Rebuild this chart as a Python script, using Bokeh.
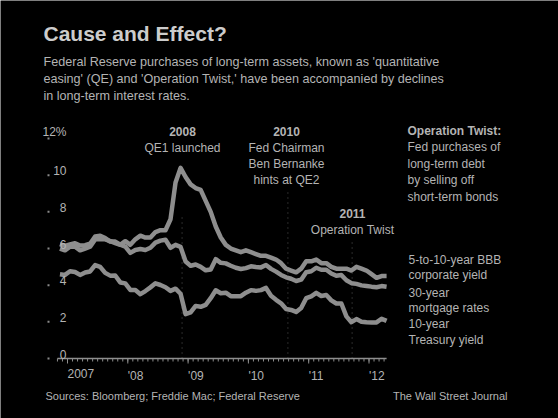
import math
from bokeh.plotting import figure
from bokeh.models import Range1d, Label
from bokeh.core.properties import value
from bokeh.embed import file_html
from bokeh.resources import INLINE

# ---------------- data ----------------
start_year, start_month = 2006, 11
n_months = 66  # Nov 2006 .. Apr 2012

treasury = [4.60, 4.56,
            4.76, 4.72, 4.56, 4.69, 4.75, 5.10, 5.00, 4.67, 4.52, 4.53, 4.15, 4.10,
            3.74, 3.74, 3.51, 3.68, 3.88, 4.10, 4.01, 3.89, 3.69, 3.81, 3.53, 2.42,
            2.52, 2.87, 2.82, 2.93, 3.29, 3.72, 3.56, 3.59, 3.40, 3.39, 3.40, 3.59,
            3.73, 3.69, 3.73, 3.85, 3.42, 3.20, 3.01, 2.70, 2.65, 2.54, 2.76, 3.29,
            3.39, 3.58, 3.41, 3.46, 3.17, 3.00, 3.00, 2.30, 1.98, 2.15, 2.01, 1.98,
            1.97, 1.97, 2.17, 2.05]
mortgage = [6.24, 6.14,
            6.22, 6.29, 6.16, 6.18, 6.26, 6.66, 6.70, 6.57, 6.38, 6.38, 6.21, 6.10,
            5.76, 5.92, 5.97, 5.92, 6.04, 6.32, 6.43, 6.48, 6.04, 6.20, 6.09, 5.29,
            5.06, 5.13, 5.00, 4.81, 4.86, 5.42, 5.22, 5.19, 5.06, 4.95, 4.88, 4.93,
            5.03, 4.99, 4.97, 5.10, 4.89, 4.74, 4.56, 4.43, 4.35, 4.23, 4.30, 4.71,
            4.76, 4.95, 4.84, 4.84, 4.64, 4.51, 4.55, 4.27, 4.11, 4.07, 3.99, 3.96,
            3.92, 3.89, 3.95, 3.91]
corporate = [6.0, 5.9,
             6.1, 6.1, 5.9, 6.0, 6.1, 6.5, 6.5, 6.5, 6.4, 6.3, 6.2, 6.4,
             6.2, 6.5, 6.7, 6.6, 6.6, 6.9, 7.0, 7.0, 7.6, 9.6, 10.4, 9.9,
             9.5, 9.3, 9.2, 8.6, 8.0, 7.2, 6.6, 6.2, 6.0, 5.9, 5.8, 5.9,
             5.8, 5.7, 5.6, 5.6, 5.5, 5.4, 5.2, 4.9, 4.8, 4.7, 4.9, 5.3,
             5.3, 5.4, 5.2, 5.2, 5.0, 4.9, 4.9, 4.9, 4.8, 5.0, 4.9, 4.8,
             4.6, 4.4, 4.5, 4.5]

year_ticks = [2007, 2008, 2009, 2010, 2011, 2012]
year_labels = ["2007", "'08", "'09", "'10", "'11", "'12"]
y_ticks = [0, 2, 4, 6, 8, 10, 12]
y_tick_labels = ["0", "2", "4", "6", "8", "10", "12%"]

event_x = [2008.90, 2010.655, 2011.72]      # QE1, Jackson Hole, Operation Twist
event_top = [7.8, 9.2, 6.4]

# month positions (fractional year)
months_x = []
month_starts = []
for i in range(n_months):
    m = start_month - 1 + i
    y = start_year + m // 12
    mm = m % 12
    months_x.append(y + (mm + 0.5) / 12)
    month_starts.append(y + mm / 12)

# ---------------- styling ----------------
BG = "black"
TXT = "#b4b4b4"
LINE = "#8e8e8e"
FONT = "Liberation Sans"
W, H = 558, 418

# pixel layout of the chart area: Jan 2007 at x=67, 60.3 px/yr; 0% at y=358, 18.33 px per %
X0PX, PXYR = 67, 60.3
Y0PX, PXPCT = 358, 18.33

p = figure(width=W, height=H,
           x_range=Range1d(2007 - X0PX / PXYR, 2007 + (W - X0PX) / PXYR),
           y_range=Range1d(-(H - Y0PX) / PXPCT, Y0PX / PXPCT),
           output_backend="svg", toolbar_location=None,
           x_axis_location=None, y_axis_location=None,
           min_border=0, background_fill_color=BG, border_fill_color=BG,
           outline_line_color=None, title=None)
p.outline_line_alpha = 0
p.grid.visible = False

x_left = 2007 + (47 - X0PX) / PXYR
x_ylab = 2007 + (66 - X0PX) / PXYR

# grid stubs at left
p.ray(x=[x_left] * len(y_ticks), y=y_ticks, length=2, length_units="screen",
      angle=0, line_color="#8a8a8a", line_width=2)

# event lines
p.segment(x0=event_x, y0=[0] * len(event_x), x1=event_x, y1=event_top,
          line_color="#555555", line_width=1, line_dash="1 4")

# series
for s in (corporate, mortgage, treasury):
    p.line(months_x, s, line_color=LINE, line_width=4.5, line_join="round")

# x axis (drawn with the plot's scales)
p.segment(x0=[month_starts[0]], y0=[0], x1=[months_x[-1]], y1=[0],
          line_color=LINE, line_width=1.5)
p.ray(x=month_starts, y=[0] * len(month_starts), length=3, length_units="screen",
      angle=-math.pi / 2, line_color=LINE, line_width=1)
p.ray(x=year_ticks, y=[0] * len(year_ticks), length=5, length_units="screen",
      angle=-math.pi / 2, line_color=LINE, line_width=1)
p.text(x=year_ticks, y=[0] * len(year_ticks), text=year_labels,
       text_align="left", text_baseline="top", y_offset=10,
       text_font_size="12px", text_color=TXT, text_font=value(FONT))

# y labels
p.text(x=[x_ylab] * len(y_ticks), y=y_ticks, text=y_tick_labels,
       text_align="right", text_baseline="bottom", text_font_size="12px",
       text_color=TXT, text_font=value(FONT))


def lab(px, py, txt, size=12, bold=False, align="left", color=TXT, font=FONT):
    p.add_layout(Label(x=px, y=H - py, x_units="screen", y_units="screen",
                       text=txt, text_align=align, text_baseline="middle",
                       text_font_size=f"{size}px",
                       text_font_style="bold" if bold else "normal",
                       text_color=color, text_font=font))


# title & subtitle
lab(43, 33, "Cause and Effect?", size=21, bold=True, color="#cccccc")
sub = ["Federal Reserve purchases of long-term assets, known as 'quantitative",
       "easing' (QE) and 'Operation Twist,' have been accompanied by declines",
       "in long-term interest rates."]
for i, s in enumerate(sub):
    lab(43, 61 + 17 * i, s, size=12.6)

# event annotations
lab(182, 131, "2008", bold=True, align="center")
lab(182, 147, "QE1 launched", align="center")
lab(286, 131, "2010", bold=True, align="center")
for i, s in enumerate(["Fed Chairman", "Ben Bernanke", "hints at QE2"]):
    lab(286, 147 + 16 * i, s, align="center")
lab(352, 213, "2011", bold=True, align="center")
lab(352, 229, "Operation Twist", align="center")

# right explanatory note
note = ["Operation Twist:", "Fed purchases of", "long-term debt",
        "by selling off", "short-term bonds"]
for i, s in enumerate(note):
    lab(407, 130 + 16.5 * i, s, bold=(i == 0))

# series labels
leg = [("5-to-10-year BBB", 259), ("corporate yield", 274),
       ("30-year", 292), ("mortgage rates", 307),
       ("10-year", 323), ("Treasury yield", 339)]
for s, y in leg:
    lab(408, y, s)

# footer
lab(45, 395, "Sources: Bloomberg; Freddie Mac; Federal Reserve", size=11)
lab(507, 395, "The Wall Street Journal", size=11, align="right")

open("out.html", "w").write(file_html(p, INLINE))
